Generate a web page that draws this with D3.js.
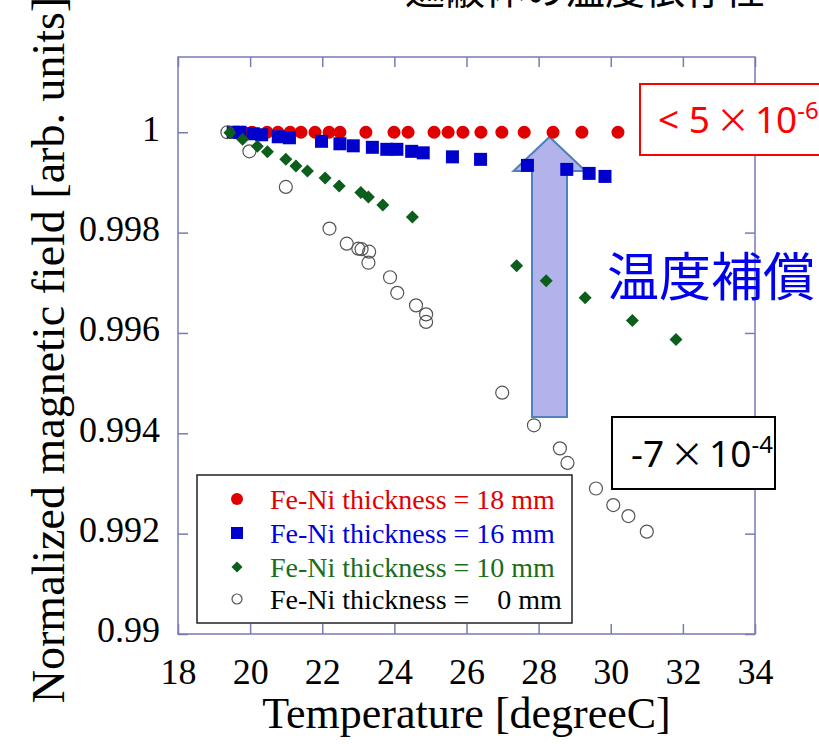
<!DOCTYPE html>
<meta charset="utf-8">
<style>
body { margin: 0; background: #fff; }
svg { display: block; }
.tick text { font-family: "Liberation Serif", serif; font-size: 36px; fill: #000; }
.axis line { stroke: #7a7ab8; stroke-width: 1.5; }
.axis path { display: none; }
.legend text { font-family: "Liberation Serif", serif; font-size: 28px; }
</style>
<svg width="819" height="744"></svg>
<script src="https://cdn.jsdelivr.net/npm/d3@7"></script>
<script>

// Fe-Ni 18 mm
var t18 = [19.8, 20.05, 20.47, 20.77, 21.11, 21.41, 21.80, 22.19, 22.49, 23.21, 23.99, 24.38, 25.10, 25.49, 25.90, 26.40, 26.98, 27.60, 28.40, 29.20, 30.20];
var b18 = [1.0, 1.0, 1.0, 1.0, 1.0, 1.0, 1.0, 1.0, 1.0, 1.0, 1.0, 1.0, 1.0, 1.0, 1.0, 1.0, 1.0, 1.0, 1.0, 1.0, 1.0];

// Fe-Ni 16 mm
var t16 = [19.53, 19.72, 20.09, 20.32, 20.78, 21.09, 21.98, 22.49, 22.86, 23.39, 23.79, 24.07, 24.48, 24.80, 25.61, 26.39, 27.69, 28.78, 29.40, 29.84];
var b16 = [1.0, 1.0, 0.99997, 0.99995, 0.99991, 0.99989, 0.99982, 0.99977, 0.99973, 0.99970, 0.99966, 0.99966, 0.99962, 0.99959, 0.99951, 0.99946, 0.99934, 0.99926, 0.99918, 0.99912];

// Fe-Ni 10 mm
var t10 = [19.44, 19.79, 20.20, 20.48, 20.99, 21.27, 21.59, 22.08, 22.47, 23.07, 23.28, 23.68, 24.50, 27.39, 28.21, 29.29, 30.60, 31.81];
var b10 = [0.99999, 0.99986, 0.99972, 0.99961, 0.99946, 0.99933, 0.99923, 0.99909, 0.99893, 0.99880, 0.99871, 0.99855, 0.99831, 0.99734, 0.99704, 0.99670, 0.99625, 0.99587];

// Fe-Ni 0 mm
var t0 = [19.37, 19.98, 20.99, 22.20, 22.68, 23.00, 23.09, 23.30, 23.28, 23.88, 24.08, 24.60, 24.88, 24.88, 26.99, 27.87, 28.59, 28.80, 29.59, 30.07, 30.49, 31.00];
var b0 = [1.0, 0.99962, 0.99891, 0.99808, 0.99778, 0.99768, 0.99767, 0.99762, 0.99740, 0.99711, 0.99680, 0.99655, 0.99637, 0.99622, 0.99481, 0.99416, 0.99370, 0.99341, 0.99290, 0.99257, 0.99235, 0.99204];

var xTicks = [18, 20, 22, 24, 26, 28, 30, 32, 34];
var yTicks = [0.99, 0.992, 0.994, 0.996, 0.998, 1];
var yTickLabels = ["0.99", "0.992", "0.994", "0.996", "0.998", "1"];

var legendLabels = ["Fe-Ni thickness = 18 mm", "Fe-Ni thickness = 16 mm",
                    "Fe-Ni thickness = 10 mm", "Fe-Ni thickness =\u2007\u20070 mm"];

var svg = d3.select("svg"),
    pL = 178, pR = 755, pT = 57, pB = 634;

var x = d3.scaleLinear().domain([18, 34]).range([pL, pR]),
    y = d3.scaleLinear().domain([0.99, 1.0015]).range([pB, pT]);

function zip(t, b) { return t.map(function(v, i) { return {t: v, b: b[i]}; }); }

// clipped heading at the very top
svg.append("text")
    .attr("x", 405).attr("y", 4)
    .style("font-family", "'Noto Sans CJK JP'")
    .style("font-size", "40px")
    .text("遮蔽体の温度依存性");

// frame
svg.append("rect")
    .attr("x", pL).attr("y", pT)
    .attr("width", pR - pL).attr("height", pB - pT)
    .attr("fill", "none").attr("stroke", "#7a7ab8").attr("stroke-width", 1.5);

svg.append("g").attr("class", "axis")
    .attr("transform", "translate(0," + pB + ")")
    .call(d3.axisBottom(x).tickValues(xTicks).tickSize(-10).tickPadding(24));

svg.append("g").attr("class", "axis")
    .attr("transform", "translate(0," + pT + ")")
    .call(d3.axisTop(x).tickValues(xTicks).tickSize(-10).tickFormat(""));

var gy = svg.append("g").attr("class", "axis")
    .attr("transform", "translate(" + pL + ",0)")
    .call(d3.axisLeft(y).tickValues(yTicks).tickSize(-10).tickPadding(18)
      .tickFormat(function(d, i) { return yTickLabels[i]; }));
gy.selectAll("text").attr("dy", "0.22em");

svg.append("g").attr("class", "axis")
    .attr("transform", "translate(" + pR + ",0)")
    .call(d3.axisRight(y).tickValues(yTicks).tickSize(-10).tickFormat(""));

// axis titles
svg.append("text")
    .attr("x", (pL + pR) / 2).attr("y", 728)
    .attr("text-anchor", "middle")
    .style("font-family", "'Liberation Serif', serif").style("font-size", "44px")
    .text("Temperature [degreeC]");

svg.append("text")
    .attr("transform", "translate(64,350) rotate(-90)")
    .attr("text-anchor", "middle")
    .style("font-family", "'Liberation Serif', serif").style("font-size", "46px")
    .text("Normalized magnetic field [arb. units]");

// compensation arrow (annotation)
var ax = 549.5, shaftW = 35, headW = 72, tipY = 137, headY = 171, baseY = 417;
svg.append("path")
    .attr("d", "M" + (ax - shaftW / 2) + "," + baseY +
               "L" + (ax - shaftW / 2) + "," + headY +
               "L" + (ax - headW / 2) + "," + headY +
               "L" + ax + "," + tipY +
               "L" + (ax + headW / 2) + "," + headY +
               "L" + (ax + shaftW / 2) + "," + headY +
               "L" + (ax + shaftW / 2) + "," + baseY + "Z")
    .attr("fill", "#b3b3eb").attr("stroke", "#4f81bd").attr("stroke-width", 2);

var diamond = "M0,-6.5L6.5,0L0,6.5L-6.5,0Z";

svg.append("g").selectAll("circle")
    .data(zip(t18, b18)).enter().append("circle")
    .attr("cx", function(d) { return x(d.t); })
    .attr("cy", function(d) { return y(d.b); })
    .attr("r", 6.5).attr("fill", "#e00000");

svg.append("g").selectAll("rect")
    .data(zip(t16, b16)).enter().append("rect")
    .attr("x", function(d) { return x(d.t) - 6.5; })
    .attr("y", function(d) { return y(d.b) - 6.5; })
    .attr("width", 13).attr("height", 13).attr("fill", "#0000cc");

svg.append("g").selectAll("circle")
    .data(zip(t0, b0)).enter().append("circle")
    .attr("cx", function(d) { return x(d.t); })
    .attr("cy", function(d) { return y(d.b); })
    .attr("r", 6.5).attr("fill", "none").attr("stroke", "#555").attr("stroke-width", 1.2);

svg.append("g").selectAll("path")
    .data(zip(t10, b10)).enter().append("path")
    .attr("d", diamond)
    .attr("transform", function(d) { return "translate(" + x(d.t) + "," + y(d.b) + ")"; })
    .attr("fill", "#0b5e1b");

// legend
var lg = svg.append("g").attr("class", "legend");
lg.append("rect")
    .attr("x", 197).attr("y", 475).attr("width", 375).attr("height", 148)
    .attr("fill", "#fff").attr("stroke", "#222").attr("stroke-width", 1.5);
var rows = [499, 533, 567, 599], colors = ["#e00000", "#0000dd", "#1a6e1a", "#000"];
lg.append("circle").attr("cx", 237).attr("cy", rows[0]).attr("r", 6).attr("fill", "#e00000");
lg.append("rect").attr("x", 231).attr("y", rows[1] - 6).attr("width", 12).attr("height", 12).attr("fill", "#0000cc");
lg.append("path").attr("d", "M0,-5.5L5.5,0L0,5.5L-5.5,0Z")
    .attr("transform", "translate(237," + rows[2] + ")").attr("fill", "#0b5e1b");
lg.append("circle").attr("cx", 237).attr("cy", rows[3]).attr("r", 5)
    .attr("fill", "none").attr("stroke", "#555").attr("stroke-width", 1.2);
lg.selectAll("text.lab").data(legendLabels).enter().append("text")
    .attr("class", "lab")
    .attr("x", 270).attr("y", function(d, i) { return rows[i] + 10; })
    .attr("fill", function(d, i) { return colors[i]; })
    .text(function(d) { return d; });

// annotation boxes
var sans = "'Noto Sans', 'Open Sans', sans-serif",
    cjk = "'Noto Sans CJK JP'";
function sciLabel(g, xx, yy, pre, exp, color) {
  var t = g.append("text").attr("x", xx).attr("y", yy)
      .style("font-family", sans).style("font-size", "37px").attr("fill", color);
  t.append("tspan").text(pre);
  t.append("tspan").attr("dx", 6).style("font-family", cjk).style("font-size", "34px").text("×");
  t.append("tspan").attr("dx", 5).text("10");
  t.append("tspan").attr("dy", -14).style("font-size", "24px").text(exp);
}

svg.append("rect").attr("x", 640).attr("y", 84).attr("width", 220).attr("height", 71)
    .attr("fill", "#fff").attr("stroke", "#ff0000").attr("stroke-width", 2);
sciLabel(svg, 658, 133, "< 5", "-6", "#ff0000");

svg.append("rect").attr("x", 612).attr("y", 417).attr("width", 163).attr("height", 72)
    .attr("fill", "#fff").attr("stroke", "#000").attr("stroke-width", 2);
sciLabel(svg, 631, 467, "-7", "-4", "#000");

svg.append("text").attr("x", 607).attr("y", 296)
    .style("font-family", cjk).style("font-size", "52px")
    .attr("fill", "#0000ee")
    .text("温度補償");

</script>
